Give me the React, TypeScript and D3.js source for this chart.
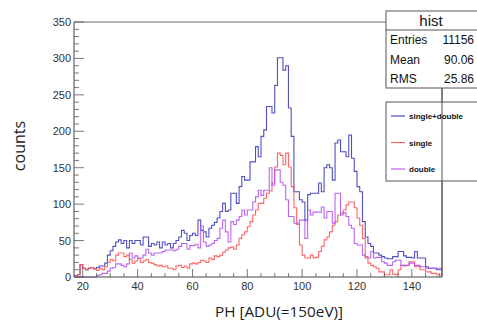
import React from "react";
import * as d3 from "d3";

const binStart = 17;
const redSingle = [2,3,17,12,10,12,13,11,9,12,10,14,20,24,22,30,33,33,28,30,24,19,22,25,20,22,24,20,19,17,15,16,14,15,12,12,10,15,16,13,15,12,18,19,18,20,23,22,20,26,24,29,28,30,34,37,40,41,38,44,53,58,62,69,76,85,92,101,101,108,115,118,129,151,170,167,154,170,151,124,95,72,44,30,26,26,30,26,27,35,42,51,55,62,71,76,85,88,92,99,103,103,95,81,71,53,28,19,16,14,12,7,7,3,3,10,4,3,10,16,15,16,21,21,14,14,10,10,7,7,5,5,3,3];
const purpleDouble = [0,0,0,0,0,0,0,0,2,3,5,5,8,12,13,18,18,16,14,18,33,26,29,26,26,30,38,33,30,33,33,33,35,37,37,37,36,38,42,46,46,38,43,43,45,40,70,48,42,44,46,50,53,67,78,62,48,76,72,78,83,92,85,92,92,103,110,119,112,119,119,150,126,147,147,130,126,106,83,83,74,74,78,78,53,92,85,89,89,89,96,81,90,90,74,115,115,85,88,83,71,67,46,44,44,30,26,26,35,26,27,27,21,19,16,16,21,23,23,16,16,16,19,19,16,16,14,14,12,12,12,12,12,12];
const blueTotal = [2,3,17,12,10,12,13,11,13,15,15,19,30,36,42,48,51,46,50,40,50,46,50,50,44,55,55,42,46,44,48,40,48,44,46,40,46,50,55,64,60,50,57,60,57,78,64,62,55,67,71,75,81,90,101,90,92,115,115,101,124,138,133,133,158,158,179,165,193,202,234,234,225,263,301,301,284,290,232,193,117,117,106,103,78,113,115,115,115,129,117,150,154,150,133,184,188,172,172,165,195,163,145,124,117,76,55,46,42,33,33,30,28,26,25,25,28,28,35,35,29,27,27,26,35,26,26,26,14,12,12,12,10,10];

const xTicks = [20, 40, 60, 80, 100, 120, 140];
const yTicks = [0, 50, 100, 150, 200, 250, 300, 350];
const legendLabels = ["single+double", "single", "double"];
const statsLabels = ["Entries", "Mean", "RMS"];
const statsValues = ["11156", "90.06", "25.86"];

const W = 477, H = 322;
const L = 74, R = 442, T = 22, B = 277;
const font = "'Liberation Sans', Arial, sans-serif";
const colors = ["#3d3db8", "#ff5555", "#b455ee"];

export default function App() {
  const x = d3.scaleLinear().domain([16.8, 151]).range([L, R]);
  const y = d3.scaleLinear().domain([0, 350]).range([B, T]);
  const line = d3.line<[number, number]>().x(d => x(d[0])).y(d => y(d[1])).curve(d3.curveStepAfter);
  const mk = (vals: number[]) => {
    const pts: [number, number][] = vals.map((v, i) => [binStart + i, v]);
    pts.push([binStart + vals.length, vals[vals.length - 1]]);
    return line(pts) || "";
  };
  const series = [blueTotal, redSingle, purpleDouble];
  const yMinor = d3.range(0, 351, 10);
  const xMinor = d3.range(20, 151, 5);
  return (
    <svg width={W} height={H} style={{ position: "absolute", left: 0, top: 0, background: "#fff" }}>
      <rect x={0} y={0} width={W} height={H} fill="#fff" />
      <g>
        {series.map((s, i) => (
          <path key={i} d={mk(s)} fill="none" stroke={colors[i]} strokeWidth={1.1} strokeOpacity={0.9} />
        ))}
      </g>
      <line x1={L} x2={R} y1={T} y2={T} stroke="#666" strokeWidth={1} />
      <line x1={R} x2={R} y1={T} y2={B} stroke="#555" strokeWidth={1} />
      <line x1={L} x2={L} y1={T} y2={B} stroke="#444" strokeWidth={1} />
      <line x1={L} x2={R} y1={B} y2={B} stroke="#444" strokeWidth={1} />
      {yMinor.map(v => (
        <line key={"ym" + v} x1={L} x2={L + (v % 50 === 0 ? 10 : 5)} y1={y(v)} y2={y(v)} stroke="#555" strokeWidth={0.8} />
      ))}
      {yTicks.map(v => (
        <text key={"yt" + v} x={L - 3} y={y(v) + 4} textAnchor="end" fontSize={11} fontFamily={font} fill="#333">{v}</text>
      ))}
      {xMinor.map(v => (
        <line key={"xm" + v} x1={x(v)} x2={x(v)} y1={B} y2={B - (v % 20 === 0 ? 8 : 4)} stroke="#555" strokeWidth={0.8} />
      ))}
      {xTicks.map(v => (
        <text key={"xt" + v} x={x(v)} y={B + 13} textAnchor="middle" fontSize={11} fontFamily={font} fill="#333">{v}</text>
      ))}
      <text transform={`translate(25,146) rotate(-90)`} textAnchor="middle" fontSize={16} fontFamily="'Open Sans', sans-serif" fill="#222">counts</text>
      <text x={279} y={317} textAnchor="middle" fontSize={15.3} fontFamily="'Open Sans', sans-serif" fill="#222">PH [ADU(=150eV)]</text>
      <rect x={386} y={11} width={100} height={77} fill="#fff" stroke="#555" strokeWidth={1} />
      <line x1={386} x2={W} y1={30} y2={30} stroke="#555" strokeWidth={1} />
      <text x={431} y={26} textAnchor="middle" fontSize={15} fontFamily={font} fill="#111">hist</text>
      {statsLabels.map((l, i) => (
        <g key={l}>
          <text x={390} y={44 + i * 19.5} fontSize={12} fontFamily={font} fill="#111">{l}</text>
          <text x={474} y={44 + i * 19.5} textAnchor="end" fontSize={12} fontFamily={font} fill="#111">{statsValues[i]}</text>
        </g>
      ))}
      <rect x={386} y={102} width={100} height={79} fill="#fff" stroke="#555" strokeWidth={1} />
      <line x1={R} x2={R} y1={88} y2={B} stroke="#555" strokeWidth={1} />
      {legendLabels.map((l, i) => {
        const ly = 116 + i * 26.5;
        return (
          <g key={l}>
            <line x1={391} x2={405} y1={ly} y2={ly} stroke={colors[i]} strokeWidth={1.1} />
            <text x={409} y={ly + 3} fontSize={8} fontWeight="bold" fontFamily={font} fill="#111">{l}</text>
          </g>
        );
      })}
    </svg>
  );
}
